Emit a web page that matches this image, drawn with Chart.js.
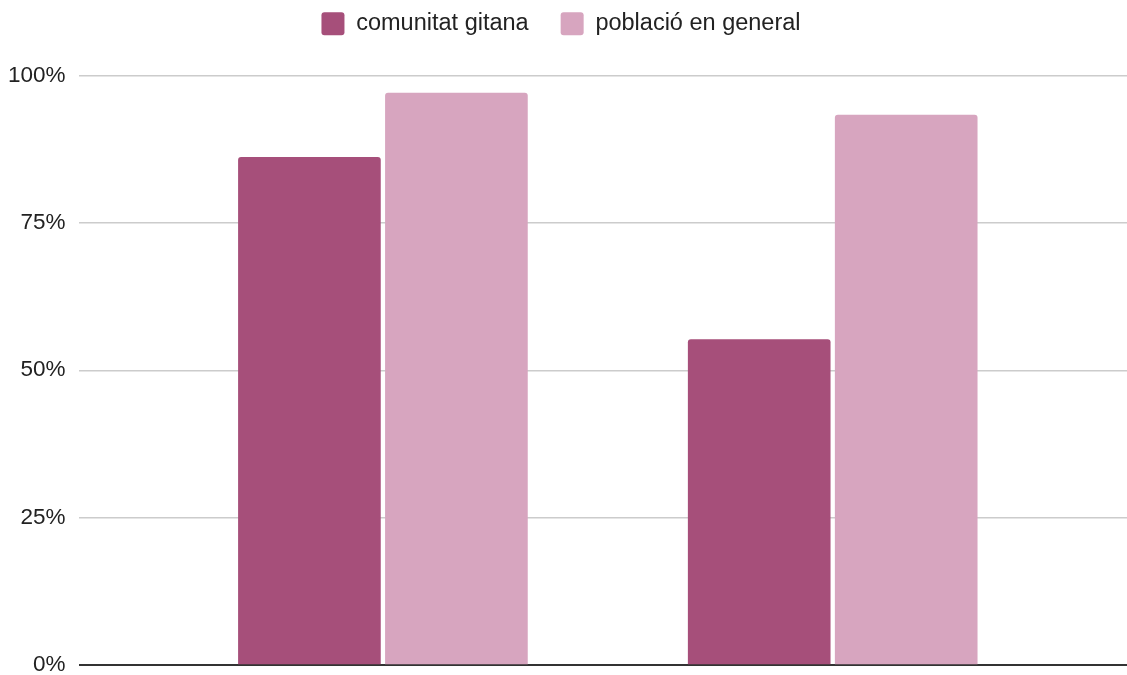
<!DOCTYPE html>
<html>
<head>
<meta charset="utf-8">
<script src="https://cdn.jsdelivr.net/npm/chart.js@4/dist/chart.umd.min.js"></script>
<style>
  html, body { margin: 0; padding: 0; background: #fff; }
  #wrap { width: 1127px; height: 675px; position: relative; }
</style>
</head>
<body>
<div id="wrap"><canvas id="chart"></canvas></div>
<script>
// two groups, no category labels shown in the original
const groupPositions = [1, 2];
const seriesNames = ['comunitat gitana', 'població en general'];
const comunitatGitana = [86.1, 55.2];
const poblacioGeneral = [97.0, 93.3];
const yTicks = [0, 25, 50, 75, 100];

const darkPink = '#a64f7a';
const lightPink = '#d7a5bf';
const fontFamily = 'Liberation Sans, Arial, sans-serif';

const toPoints = (vals) => vals.map((v, i) => ({ x: groupPositions[i], y: v }));

// push the plot area down a bit below the legend
const legendGap = {
  id: 'legendGap',
  beforeInit(chart) {
    const fit = chart.legend.fit;
    chart.legend.fit = function () {
      fit.bind(chart.legend)();
      this.height += 30;
    };
  }
};

const barStyle = {
  borderRadius: { topLeft: 3, topRight: 3 },
  borderSkipped: 'bottom',
  barThickness: 147,
  maxBarThickness: 142
};

new Chart(document.getElementById('chart'), {
  type: 'bar',
  data: {
    datasets: [
      Object.assign({ label: seriesNames[0], data: toPoints(comunitatGitana), backgroundColor: darkPink }, barStyle),
      Object.assign({ label: seriesNames[1], data: toPoints(poblacioGeneral), backgroundColor: lightPink }, barStyle)
    ]
  },
  options: {
    responsive: true,
    maintainAspectRatio: false,
    animation: false,
    layout: { padding: { left: -5, right: 0, top: -20, bottom: 0 } },
    plugins: {
      tooltip: { enabled: false },
      legend: {
        position: 'top',
        align: 'center',
        labels: {
          boxWidth: 23,
          boxHeight: 23,
          useBorderRadius: true,
          borderRadius: 3,
          padding: 32,
          color: '#222',
          font: { family: fontFamily, size: 23.5 }
        }
      }
    },
    scales: {
      x: {
        type: 'linear',
        display: false,
        offset: false,
        min: 0.3233,
        max: 2.6543
      },
      y: {
        min: 0,
        max: 100,
        afterBuildTicks: (axis) => { axis.ticks = yTicks.map(v => ({ value: v })); },
        // let the 0% label hang closer to the bottom edge
        afterFit: (axis) => { axis.paddingBottom = 10; },
        grid: {
          color: (ctx) => ctx.tick && ctx.tick.value === 0 ? '#333' : '#cccccc',
          lineWidth: (ctx) => ctx.tick && ctx.tick.value === 0 ? 2 : 1.5,
          drawTicks: false
        },
        border: { display: false },
        ticks: {
          padding: 13,
          color: '#222',
          font: { family: fontFamily, size: 22.5 },
          callback: (v) => v + '%'
        }
      }
    }
  },
  plugins: [legendGap]
});
</script>
</body>
</html>
